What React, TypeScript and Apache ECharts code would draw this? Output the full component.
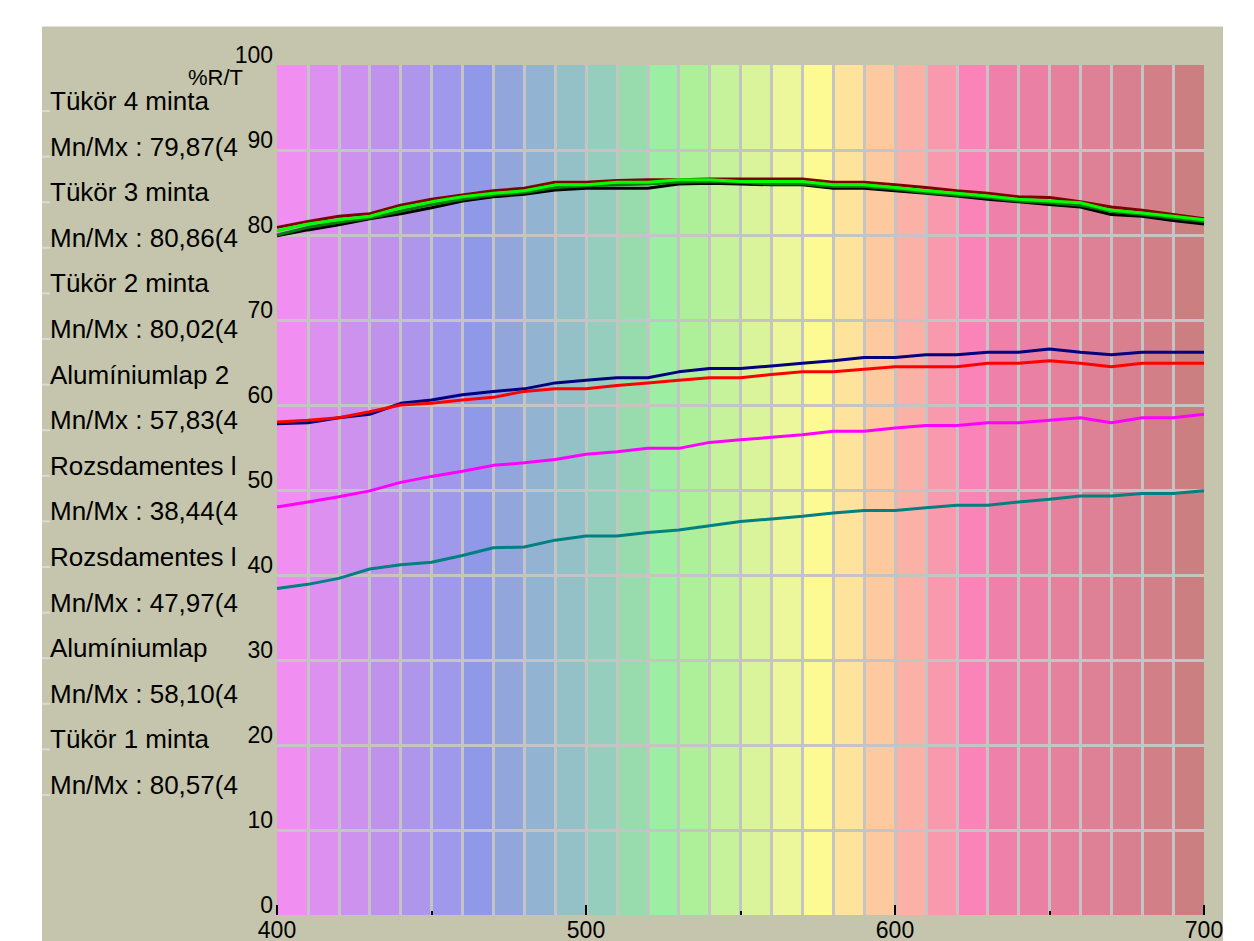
import React, { useEffect, useRef } from "react";
import * as echarts from "echarts";

// Wavelengths (nm) at which values were read
const wavelengths = [
  400, 410, 420, 430, 440, 450, 460, 470, 480, 490, 500, 510, 520, 530, 540, 550,
  560, 570, 580, 590, 600, 610, 620, 630, 640, 650, 660, 670, 680, 690, 700,
];

// Spectrum background bands (10 nm wide)
const bandStarts = [
  400, 410, 420, 430, 440, 450, 460, 470, 480, 490, 500, 510, 520, 530, 540,
  550, 560, 570, 580, 590, 600, 610, 620, 630, 640, 650, 660, 670, 680, 690,
];
const bandColors = [
  "#F08EF2", "#DE90F0", "#CD92EE", "#BF93EB", "#AE96EA", "#A098EA", "#9099E8", "#92A6DC", "#93B3D2", "#94C0C8",
  "#96CEBE", "#98DCAE", "#9CEEA2", "#AEEF9A", "#C6F29C", "#DAF49C", "#EBF79A", "#FDFA94", "#FDE39C", "#FDCAA0",
  "#FBB1A6", "#F999AD", "#FA84B8", "#EE80AA", "#EA80A3", "#E5809D", "#DE8096", "#D8808F", "#D27F88", "#CC7F80",
];

const yAxisTitle = "%R/T";

// Series (same order as the labels on the left)
const seriesNames = [
  "Tükör 4 minta",
  "Tükör 3 minta",
  "Tükör 2 minta",
  "Alumíniumlap 2",
  "Rozsdamentes l",
  "Rozsdamentes l",
  "Alumíniumlap",
  "Tükör 1 minta",
];
const minMaxLabels = [
  "79,87(4",
  "80,86(4",
  "80,02(4",
  "57,83(4",
  "38,44(4",
  "47,97(4",
  "58,10(4",
  "80,57(4",
];
const seriesColors = [
  "#000000",
  "#800000",
  "#008000",
  "#000080",
  "#008080",
  "#FF00FF",
  "#FF0000",
  "#00FF00",
];

const tukor4 = [
  79.9, 80.6, 81.2, 81.9, 82.5, 83.2, 84.0, 84.5, 84.8, 85.3, 85.5, 85.5, 85.5, 86.0, 86.1, 86.0,
  85.9, 85.9, 85.5, 85.5, 85.2, 84.9, 84.6, 84.2, 83.9, 83.6, 83.3, 82.4, 82.2, 81.7, 81.3,
];
const tukor3 = [
  80.9, 81.6, 82.2, 82.5, 83.5, 84.2, 84.7, 85.2, 85.5, 86.2, 86.2, 86.4, 86.5, 86.5, 86.6, 86.6,
  86.6, 86.6, 86.2, 86.2, 85.9, 85.6, 85.2, 84.9, 84.5, 84.4, 83.9, 83.3, 82.9, 82.4, 81.9,
];
const tukor2 = [
  80.0, 80.9, 81.5, 82.0, 82.8, 83.6, 84.2, 84.7, 85.0, 85.6, 85.8, 85.9, 86.0, 86.2, 86.3, 86.2,
  86.0, 86.0, 85.7, 85.7, 85.4, 85.0, 84.7, 84.4, 84.0, 83.8, 83.5, 82.8, 82.4, 82.0, 81.6,
];
const aluminium2 = [
  57.8, 57.9, 58.5, 58.9, 60.2, 60.6, 61.2, 61.6, 61.9, 62.6, 62.9, 63.2, 63.2, 63.9, 64.3, 64.3,
  64.6, 64.9, 65.2, 65.6, 65.6, 65.9, 65.9, 66.2, 66.2, 66.6, 66.2, 65.9, 66.2, 66.2, 66.2,
];
const rozsdamentes1 = [
  38.4, 38.9, 39.6, 40.7, 41.2, 41.5, 42.3, 43.2, 43.3, 44.1, 44.6, 44.6, 45.0, 45.3, 45.8, 46.3,
  46.6, 46.9, 47.3, 47.6, 47.6, 47.9, 48.2, 48.2, 48.6, 48.9, 49.3, 49.3, 49.6, 49.6, 49.9,
];
const rozsdamentes2 = [
  48.0, 48.6, 49.2, 49.9, 50.9, 51.6, 52.2, 52.9, 53.2, 53.6, 54.2, 54.5, 54.9, 54.9, 55.6, 55.9,
  56.2, 56.5, 56.9, 56.9, 57.3, 57.6, 57.6, 57.9, 57.9, 58.2, 58.5, 57.9, 58.5, 58.5, 58.9,
];
const aluminium = [
  58.0, 58.2, 58.5, 59.2, 60.0, 60.2, 60.6, 60.9, 61.6, 61.9, 61.9, 62.3, 62.6, 62.9, 63.2, 63.2,
  63.6, 63.9, 63.9, 64.2, 64.5, 64.5, 64.5, 64.9, 64.9, 65.2, 64.9, 64.5, 64.9, 64.9, 64.9,
];
const tukor1 = [
  80.5, 81.3, 81.8, 82.2, 83.2, 83.9, 84.5, 84.9, 85.2, 85.9, 85.9, 86.2, 86.2, 86.5, 86.5, 86.3,
  86.3, 86.3, 85.9, 85.9, 85.6, 85.2, 84.9, 84.6, 84.2, 84.0, 83.8, 82.9, 82.6, 82.2, 81.8,
];

const seriesValues = [tukor4, tukor3, tukor2, aluminium2, rozsdamentes1, rozsdamentes2, aluminium, tukor1];

const FONT = "'Liberation Sans', Arial, sans-serif";

export default function App() {
  const ref = useRef<HTMLDivElement>(null);

  useEffect(() => {
    if (!ref.current) return;
    const chart = echarts.init(ref.current, null, { renderer: "svg" });

    const rowTop = 101;
    const rowStep = 45.6;
    const labelTexts: any[] = [];
    seriesNames.forEach((name, i) => {
      const rows = [name, "Mn/Mx : " + minMaxLabels[i]];
      rows.forEach((t, k) => {
        const y = rowTop + (2 * i + k) * rowStep;
        labelTexts.push({
          type: "text",
          x: 50,
          y,
          z: 10,
          style: {
            text: t,
            fill: "#000",
            font: `26px ${FONT}`,
            textAlign: "left",
            textVerticalAlign: "middle",
            align: "left",
            verticalAlign: "middle",
          },
        });
        labelTexts.push({
          type: "line",
          z: 10,
          shape: { x1: 42, y1: y + 10, x2: 50, y2: y + 10 },
          style: { stroke: "#DADAD4", lineWidth: 2 },
        });
      });
    });

    const option: any = {
      animation: false,
      backgroundColor: "#FFFFFF",
      grid: { left: 277, right: 50, top: 65, bottom: 23, containLabel: false },
      graphic: {
        elements: [
          {
            type: "rect",
            z: -100,
            shape: { x: 42, y: 27, width: 1181, height: 914 },
            style: { fill: "#C4C5AC" },
          },
          {
            type: "line",
            z: -99,
            shape: { x1: 42, y1: 26.5, x2: 1223, y2: 26.5 },
            style: { stroke: "#E2E2DE", lineWidth: 1 },
          },
          {
            type: "text",
            x: 243,
            y: 77,
            z: 11,
            style: {
              text: yAxisTitle,
              fill: "#000",
              font: `22px ${FONT}`,
              textAlign: "right",
              textVerticalAlign: "middle",
              align: "right",
              verticalAlign: "middle",
            },
          },
          ...labelTexts,
        ],
      },
      xAxis: [
        {
          type: "value",
          min: 400,
          max: 700,
          interval: 10,
          position: "bottom",
          axisLine: { show: false },
          axisTick: { show: false },
          axisLabel: { show: false },
          splitLine: {
            show: true,
            showMinLine: false,
            showMaxLine: false,
            lineStyle: { color: "#C4C4C4", width: 3 },
          },
        },
        {
          type: "value",
          min: 400,
          max: 700,
          interval: 100,
          position: "bottom",
          axisLine: { show: false },
          axisTick: { show: true, inside: true, length: 10, lineStyle: { color: "#000", width: 2 } },
          minorTick: { show: true, splitNumber: 2, length: 4, lineStyle: { color: "#000", width: 2 } },
          axisLabel: { color: "#000", fontSize: 23, fontFamily: FONT, margin: 3 },
          splitLine: { show: false },
        },
      ],
      yAxis: {
        type: "value",
        min: 0,
        max: 100,
        interval: 10,
        axisLine: { show: false },
        axisTick: { show: false },
        axisLabel: {
          color: "#000",
          fontSize: 23,
          fontFamily: FONT,
          margin: 4,
          verticalAlign: "bottom",
          lineHeight: 20,
        },
        splitLine: {
          show: true,
          showMinLine: false,
          showMaxLine: false,
          lineStyle: { color: "#C4C4C4", width: 3 },
        },
      },
      series: [
        {
          type: "custom",
          name: "spectrum",
          xAxisIndex: 0,
          yAxisIndex: 0,
          z: -1,
          silent: true,
          clip: false,
          encode: { x: [0, 1] },
          data: bandStarts.map((s, i) => [s, s + 10, i]),
          renderItem: (params: any, api: any) => {
            const p1 = api.coord([api.value(0), 100]);
            const p2 = api.coord([api.value(1), 0]);
            return {
              type: "rect",
              shape: { x: p1[0], y: p1[1], width: p2[0] - p1[0], height: p2[1] - p1[1] },
              style: { fill: bandColors[api.value(2)] },
            };
          },
        },
        ...seriesValues.map((vals, i) => ({
          type: "line",
          name: seriesNames[i],
          xAxisIndex: 0,
          yAxisIndex: 0,
          z: 3 + i,
          silent: true,
          showSymbol: false,
          symbol: "none",
          data: wavelengths.map((w, j) => [w, vals[j]]),
          lineStyle: { color: seriesColors[i], width: 3 },
          itemStyle: { color: seriesColors[i] },
        })),
      ],
    };

    chart.setOption(option);
    return () => chart.dispose();
  }, []);

  return (
    <div
      ref={ref}
      style={{ position: "fixed", left: 0, top: 0, width: 1254, height: 941, background: "#FFFFFF" }}
    />
  );
}
